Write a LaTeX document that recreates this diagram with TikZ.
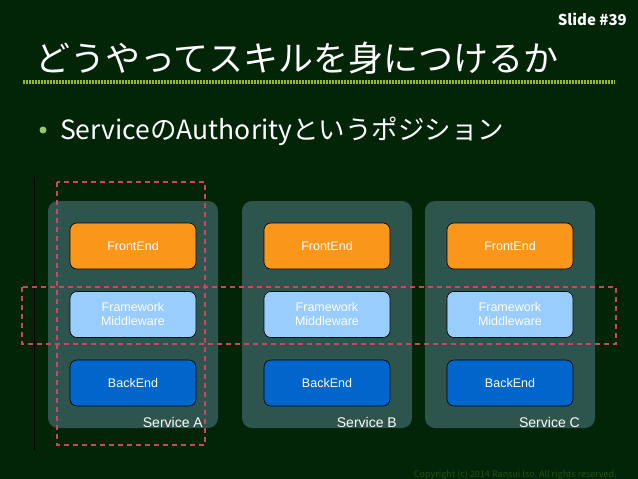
\documentclass[tikz,border=0pt]{standalone}
\usepackage{fontspec}
\setmainfont{Liberation Sans}
\newfontfamily\jpfont{Noto Sans CJK JP}
\usepackage{tikz}
\usetikzlibrary{positioning,calc}
\definecolor{slideBg}{RGB}{2,36,7}
\definecolor{panelGray}{RGB}{46,84,78}
\definecolor{frontOrange}{RGB}{250,150,25}
\definecolor{midBlue}{RGB}{153,204,255}
\definecolor{backBlue}{RGB}{0,102,204}
\definecolor{focusRed}{RGB}{208,68,96}
\definecolor{ruleGreen}{RGB}{150,185,30}
\definecolor{bulletGreen}{RGB}{150,200,100}
\definecolor{noteGreen}{RGB}{34,82,20}

\begin{document}
\begin{tikzpicture}[x=1pt,y=-1pt,
    panel/.style={fill=panelGray,rounded corners=10pt,minimum width=170pt,minimum height=227pt,inner sep=0pt},
    layer/.style={draw=black,line width=0.6pt,rounded corners=7pt,minimum width=126pt,minimum height=46pt,inner sep=0pt,
      text=white,font=\fontsize{12.5}{14}\selectfont,align=center},
    svclabel/.style={text=white,font=\fontsize{14}{16}\selectfont,inner sep=0pt,anchor=base east},
    focus/.style={draw=focusRed,line width=2pt,dash pattern=on 5pt off 4pt}]
  \useasboundingbox[fill=slideBg] (0,0) rectangle (638,479);

  % header
  \node[text=white,font=\jpfont\bfseries\fontsize{15}{17}\selectfont,inner sep=0pt,anchor=base east] (slideno) at (627,26) {Slide \#39};
  \node[text=white,font=\jpfont\fontsize{35}{40}\selectfont,inner sep=0pt,anchor=base west] (title) at (35,71) {どうやってスキルを身につけるか};
  \draw[ruleGreen,line width=4pt,dash pattern=on 2pt off 1pt] (23,82) -- (615,82);

  % bullet
  \fill[bulletGreen] (43,130) circle (3.5pt);
  \node[text=white,font=\jpfont\fontsize{26.5}{30}\selectfont,inner sep=0pt,anchor=base west] (point) at (60,139) {ServiceのAuthorityというポジション};

  \draw[black,line width=1pt] (34,177) -- (34,450);

  % Service A
  \begin{scope}[xshift=133pt]
    \node[panel] (svcA) at (0,314.5) {};
    \node[layer,fill=frontOrange] (feA) at (0,246) {FrontEnd};
    \node[layer,fill=midBlue] (fwA) at (0,314.5) {Framework\\Middleware};
    \node[layer,fill=backBlue] (beA) at (0,383) {BackEnd};
    \node[svclabel] (lblA) at (70,427) {Service A};
  \end{scope}
  % Service B
  \begin{scope}[xshift=327pt]
    \node[panel] (svcB) at (0,314.5) {};
    \node[layer,fill=frontOrange] (feB) at (0,246) {FrontEnd};
    \node[layer,fill=midBlue] (fwB) at (0,314.5) {Framework\\Middleware};
    \node[layer,fill=backBlue] (beB) at (0,383) {BackEnd};
    \node[svclabel] (lblB) at (70,427) {Service B};
  \end{scope}
  % Service C
  \begin{scope}[xshift=510pt]
    \node[panel] (svcC) at (0,314.5) {};
    \node[layer,fill=frontOrange] (feC) at (0,246) {FrontEnd};
    \node[layer,fill=midBlue] (fwC) at (0,314.5) {Framework\\Middleware};
    \node[layer,fill=backBlue] (beC) at (0,383) {BackEnd};
    \node[svclabel] (lblC) at (70,427) {Service C};
  \end{scope}

  % focus frames
  \draw[focus] (57,182) rectangle (205,445);
  \draw[focus] (22,287) rectangle (616,344);

  \node[text=noteGreen,font=\jpfont\fontsize{9}{10}\selectfont,inner sep=0pt,anchor=base east] (copy) at (617,477) {Copyright (c) 2014 Ransui Iso, All rights reserved.};
\end{tikzpicture}
\end{document}
